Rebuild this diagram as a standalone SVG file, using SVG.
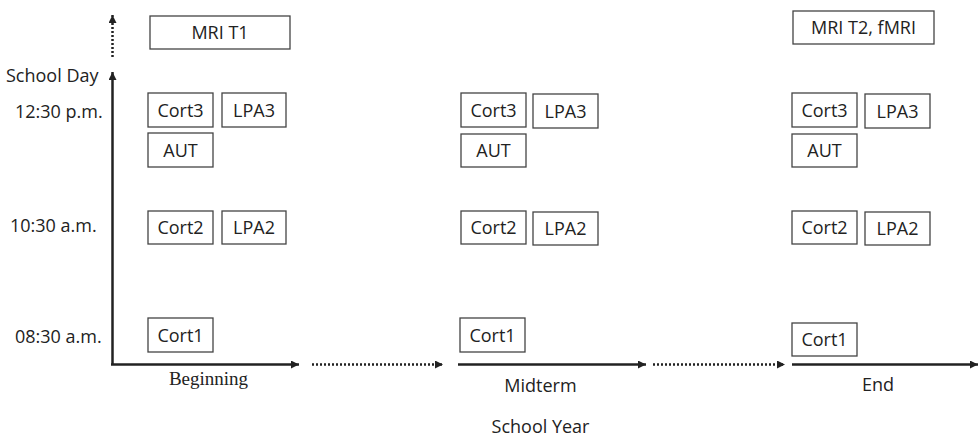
<svg xmlns="http://www.w3.org/2000/svg" width="980" height="439" viewBox="0 0 980 439">
<style>
.box{fill:#fff;stroke:#444;stroke-width:1.3}
.t{font-family:"Open Sans","Noto Sans",sans-serif;font-size:18px;fill:#222}
.c{text-anchor:middle}
.s{font-family:"Liberation Serif",serif;font-size:19px;fill:#222;text-anchor:middle}
.ax{stroke:#222;stroke-width:2.5;fill:none}
.dot{stroke:#222;stroke-width:2.5;fill:none;stroke-dasharray:2 2}
</style>
<defs>
<marker id="ah" markerUnits="userSpaceOnUse" markerWidth="10" markerHeight="10" refX="8" refY="4" orient="auto">
<path d="M0,0 L8,4 L0,8 Z" fill="#222"/>
</marker>
</defs>
<rect width="980" height="439" fill="#fff"/>
<g id="connectors">
<line class="dot" x1="112.5" y1="57" x2="112.5" y2="15" marker-end="url(#ah)"/>
<line class="ax" x1="112.5" y1="365" x2="112.5" y2="72" marker-end="url(#ah)"/>
<line class="ax" x1="111" y1="364.5" x2="299" y2="364.5" marker-end="url(#ah)"/>
<line class="dot" x1="312" y1="364.5" x2="443" y2="364.5" marker-end="url(#ah)"/>
<line class="ax" x1="458" y1="364.5" x2="646" y2="364.5" marker-end="url(#ah)"/>
<line class="dot" x1="653" y1="364.5" x2="785" y2="364.5" marker-end="url(#ah)"/>
<line class="ax" x1="792" y1="364.5" x2="978" y2="364.5" marker-end="url(#ah)"/>
</g>
<g id="labels">
<text class="t" x="6" y="82">School Day</text>
<text class="t" x="15" y="118">12:30 p.m.</text>
<text class="t" x="10" y="232">10:30 a.m.</text>
<text class="t" x="15" y="343">08:30 a.m.</text>
<text class="s" x="208.5" y="385">Beginning</text>
<text class="t c" x="540.5" y="392">Midterm</text>
<text class="t c" x="878" y="391">End</text>
<text class="t c" x="540.5" y="433">School Year</text>
</g>
<g id="mri-t1"><rect class="box" x="150" y="16" width="140" height="33"/><text class="t c" x="220" y="39">MRI T1</text></g>
<g id="mri-t2"><rect class="box" x="793" y="11" width="141" height="33"/><text class="t c" x="863.5" y="34">MRI T2, fMRI</text></g>

<g id="b-cort3"><rect class="box" x="148" y="93" width="65" height="34"/><text class="t c" x="180.5" y="117">Cort3</text></g>
<g id="b-lpa3"><rect class="box" x="222" y="93" width="64" height="34"/><text class="t c" x="254" y="117">LPA3</text></g>
<g id="b-aut"><rect class="box" x="148" y="133" width="65" height="34"/><text class="t c" x="180.5" y="157">AUT</text></g>
<g id="b-cort2"><rect class="box" x="148" y="211" width="65" height="33"/><text class="t c" x="180.5" y="234">Cort2</text></g>
<g id="b-lpa2"><rect class="box" x="222" y="211" width="64" height="33"/><text class="t c" x="254" y="234">LPA2</text></g>
<g id="b-cort1"><rect class="box" x="148" y="318" width="65" height="34"/><text class="t c" x="180.5" y="342">Cort1</text></g>

<g id="m-cort3"><rect class="box" x="461" y="93" width="65" height="34"/><text class="t c" x="493.5" y="117">Cort3</text></g>
<g id="m-lpa3"><rect class="box" x="533" y="94" width="65" height="34"/><text class="t c" x="565.5" y="118">LPA3</text></g>
<g id="m-aut"><rect class="box" x="461" y="134" width="65" height="33"/><text class="t c" x="493.5" y="157">AUT</text></g>
<g id="m-cort2"><rect class="box" x="461" y="211" width="65" height="33"/><text class="t c" x="493.5" y="234">Cort2</text></g>
<g id="m-lpa2"><rect class="box" x="533" y="212" width="65" height="33"/><text class="t c" x="565.5" y="235">LPA2</text></g>
<g id="m-cort1"><rect class="box" x="460" y="318" width="65" height="34"/><text class="t c" x="492.5" y="342">Cort1</text></g>

<g id="e-cort3"><rect class="box" x="792" y="93" width="65" height="34"/><text class="t c" x="824.5" y="117">Cort3</text></g>
<g id="e-lpa3"><rect class="box" x="865" y="94" width="65" height="34"/><text class="t c" x="897.5" y="118">LPA3</text></g>
<g id="e-aut"><rect class="box" x="792" y="134" width="65" height="33"/><text class="t c" x="824.5" y="157">AUT</text></g>
<g id="e-cort2"><rect class="box" x="792" y="211" width="65" height="33"/><text class="t c" x="824.5" y="234">Cort2</text></g>
<g id="e-lpa2"><rect class="box" x="865" y="212" width="65" height="33"/><text class="t c" x="897.5" y="235">LPA2</text></g>
<g id="e-cort1"><rect class="box" x="792" y="323" width="65" height="33"/><text class="t c" x="824.5" y="346">Cort1</text></g>
</svg>
